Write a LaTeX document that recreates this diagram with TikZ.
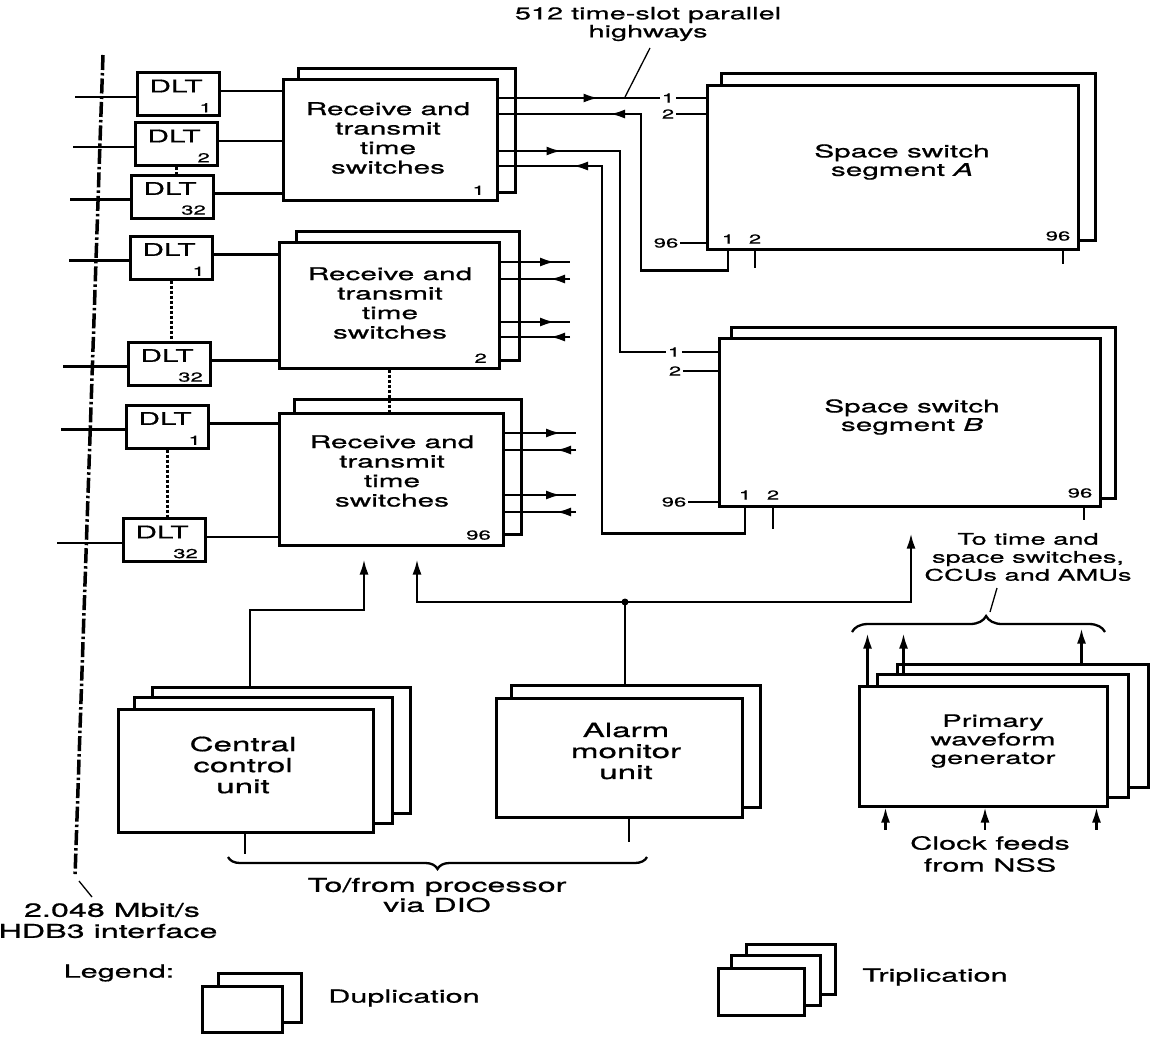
\documentclass[tikz,border=0pt]{standalone}
\usepackage{fontspec}
\setmainfont{TeX Gyre Heros}[FakeStretch=1.7,FakeBold=0.8]
\usetikzlibrary{arrows.meta,calc,decorations.pathreplacing}
\pgfdeclarelayer{back}
\pgfsetlayers{back,main}
\newcommand\backcopy[3]{\begin{pgfonlayer}{back}\draw[backbox] ($(#1.south west)+(#2,#3)$) rectangle ($(#1.north east)+(#2,#3)$);\end{pgfonlayer}}
\newcommand\dltbox[5]{%
 \node[box, minimum width=82pt, minimum height=43pt] (#1) at (#2,#3) {};
 \node[dlttext] (#1t) at ($(#1.north)+(-2,15)$) {DLT};
 \node[num, anchor=south east] (#1n) at ($(#1.south east)+(-7,-3)$) {#4};
 \coordinate (#1i) at (#5,#3+3);
 \draw[wire] (#1i) -- (#1i -| #1.west);
 \coordinate (#1o) at ($(#1.east)+(0,-3)$);
}
\begin{document}
\begin{tikzpicture}[x=1pt,y=-1pt,
 box/.style={draw, fill=white, line width=3pt, inner sep=0pt},
 backbox/.style={draw, fill=white, line width=2.4pt},
 wire/.style={line width=2.3pt},
 arr/.style={line width=2.3pt, -{Latex[length=15pt,width=9pt]}},
 thinlead/.style={line width=1.3pt},
 dotline/.style={line width=3pt, dash pattern=on 3pt off 2pt},
 dashdotline/.style={line width=3.5pt, dash pattern=on 15pt off 3pt on 2.5pt off 3pt},
 boxtext/.style={align=center, inner sep=0pt, font=\fontsize{17.5}{19.5}\selectfont},
 bigtext/.style={align=center, inner sep=0pt, font=\fontsize{19.5}{21}\selectfont},
 dlttext/.style={inner sep=0pt, font=\fontsize{17.5}{17.5}\selectfont},
 num/.style={inner sep=1.5pt, font=\fontsize{13}{13}\selectfont},
 note/.style={align=center, inner sep=0pt, font=\fontsize{16}{18}\selectfont},
 legtext/.style={inner sep=0pt, font=\fontsize{18}{18}\selectfont},
]
\useasboundingbox (0,0) rectangle (1164,1042);

% ---------- time switches ----------
\node[box, minimum width=214pt, minimum height=121pt] (ts1) at (390,139.5) {};
\backcopy{ts1}{17}{-9}
\node[boxtext] (ts1t) at (388,138) {Receive and\\transmit\\time\\switches};
\node[num, anchor=south east] (ts1n) at ($(ts1.south east)+(-12,-5)$) {1};

\node[box, minimum width=220pt, minimum height=126pt] (ts2) at (389,305) {};
\backcopy{ts2}{19}{-9}
\node[boxtext] (ts2t) at (390,303) {Receive and\\transmit\\time\\switches};
\node[num, anchor=south east] (ts2n) at ($(ts2.south east)+(-12,-5)$) {2};

\node[box, minimum width=224pt, minimum height=132pt] (ts3) at (391,479) {};
\backcopy{ts3}{17}{-12}
\node[boxtext] (ts3t) at (392,471) {Receive and\\transmit\\time\\switches};
\node[num, anchor=south east] (ts3n) at ($(ts3.south east)+(-12,-5)$) {96};

% ---------- DLTs ----------
\dltbox{d11}{178}{94}{1}{75}
\dltbox{d12}{176}{144}{2}{73}
\dltbox{d132}{172}{196.5}{32}{70}
\dltbox{d21}{171}{257.5}{1}{69}
\dltbox{d232}{169}{363.5}{32}{63}
\dltbox{d31}{167}{426.5}{1}{61}
\dltbox{d332}{164}{540}{32}{57}
\draw[wire] (d11o) -- (d11o -| ts1.west);
\draw[wire] (d12o) -- (d12o -| ts1.west);
\draw[wire] (d132o) -- (d132o -| ts1.west);
\draw[wire] (d21o) -- (d21o -| ts2.west);
\draw[wire] (d232o) -- (d232o -| ts2.west);
\draw[wire] (d31o) -- (d31o -| ts3.west);
\draw[wire] (d332o) -- (d332o -| ts3.west);
\draw[dotline] (d12.south) -- (d12.south |- d132.north);
\draw[dotline] (d21.south) -- (d21.south |- d232.north);
\draw[dotline] (d31.south) -- (d31.south |- d332.north);
\draw[dotline] (ts2.south) -- (ts2.south |- ts3.north);

% ---------- interface line ----------
\coordinate (dtop) at (103,55);
\coordinate (dbot) at (75,877);
\draw[dashdotline] (dtop) -- (dbot);
\coordinate (dlead) at (92,897);
\draw[thinlead] ($(dbot)+(4,4)$) -- (dlead);
\node[inner sep=0pt, font=\fontsize{19}{19}\selectfont] (rate) at (112,910) {2.048 Mbit/s};
\node[inner sep=0pt, font=\fontsize{19}{19}\selectfont] (hdb) at (108,931) {HDB3 interface};

% ---------- TS2 / TS3 outgoing highways ----------
\foreach \n/\yy in {a/262,b/279,c/322,d/337} \coordinate (e2\n) at (570,\yy);
\foreach \n/\yy in {a/433,b/450,c/495,d/512} \coordinate (e3\n) at (576,\yy);
\foreach \n in {a,c} {
 \draw[wire] (e2\n -| ts2.east) -- (e2\n);
 \draw[arr] (e2\n -| ts2.east) -- ($(e2\n)+(-15,0)$);
 \draw[wire] (e3\n -| ts3.east) -- (e3\n);
 \draw[arr] (e3\n -| ts3.east) -- ($(e3\n)+(-15,0)$);
}
\foreach \n in {b,d} {
 \draw[wire] (e2\n -| ts2.east) -- (e2\n);
 \draw[arr] (e2\n) -- ($(e2\n)+(-20,0)$);
 \draw[wire] (e3\n -| ts3.east) -- (e3\n);
 \draw[arr] (e3\n) -- ($(e3\n)+(-20,0)$);
}

% ---------- space switch A ----------
\node[box, minimum width=371pt, minimum height=164pt] (ssa) at (892.5,167) {};
\backcopy{ssa}{16}{-10}
\node[boxtext, font=\fontsize{17.5}{18.5}\selectfont] (ssat) at (902,162) {Space switch\\segment \textit{A}};
\node[num] (sa1) at (668,98) {1};
\node[num] (sa2) at (668,114) {2};
\node[num] (sa96) at (666,243) {96};
\node[num] (sab1) at (728,239) {1};
\node[num] (sab2) at (755,239) {2};
\node[num] (sab96) at (1058,236) {96};
\draw[wire] (sa1.east) -- (sa1 -| ssa.west);
\draw[wire] (sa2.east) -- (sa2 -| ssa.west);
\draw[wire] (sa96.east) -- (sa96 -| ssa.west);
\draw[wire] (sab2 |- ssa.south) -- ++(0,17);
\draw[wire] ($(sab96 |- ssa.south)+(5,0)$) -- ++(0,13);

% ---------- space switch B ----------
\node[box, minimum width=381pt, minimum height=168pt] (ssb) at (909.5,422) {};
\backcopy{ssb}{14}{-9}
\node[boxtext, font=\fontsize{17.5}{18.5}\selectfont] (ssbt) at (912,417) {Space switch\\segment \textit{B}};
\node[num] (sb1) at (674,352) {1};
\node[num] (sb2) at (675,371) {2};
\node[num] (sb96) at (674,502) {96};
\node[num] (sbb1) at (745,495) {1};
\node[num] (sbb2) at (773,495) {2};
\node[num] (sbb96) at (1080,493) {96};
\draw[wire] (sb1.east) -- (sb1 -| ssb.west);
\draw[wire] (sb2.east) -- (sb2 -| ssb.west);
\draw[wire] (sb96.east) -- (sb96 -| ssb.west);
\draw[wire] (sbb2 |- ssb.south) -- ++(0,21);
\draw[wire] ($(sbb96 |- ssb.south)+(4,0)$) -- ++(0,12);

% ---------- TS1 highways to space switches ----------
\draw[wire] (sa1 -| ts1.east) -- (sa1.west);
\draw[arr] (sa1 -| ts1.east) -- ++(100,0);
\coordinate (h2) at (641,114);
\draw[wire] (sab1 |- ssa.south) -- ++(0,20) -| (h2) -- (h2 -| ts1.east);
\draw[arr] (h2) -- ++(-31,0);
\coordinate (h3) at (620,151);
\draw[wire] (h3 -| ts1.east) -- (h3) |- (sb1.west);
\draw[arr] (h3 -| ts1.east) -- ++(63,0);
\coordinate (h4) at (602,166);
\draw[wire] (sbb1 |- ssb.south) -- ++(0,26) -| (h4) -- (h4 -| ts1.east);
\draw[arr] (h4) -- ++(-29,0);

% ---------- title ----------
\node[note, font=\fontsize{17}{18}\selectfont] (title) at (648,24) {512 time-slot parallel\\highways};
\coordinate (tl1) at (650,48);
\coordinate (tl2) at (625,97);
\draw[thinlead] (tl1) -- (tl2);

% ---------- central control unit ----------
\node[box, minimum width=255pt, minimum height=123pt] (ccu) at (245.5,770.5) {};
\backcopy{ccu}{36}{-20}
\backcopy{ccu}{18}{-10}
\node[bigtext] (ccut) at (243,765) {Central\\control\\unit};

% ---------- alarm monitor unit ----------
\node[box, minimum width=246pt, minimum height=119pt] (am) at (619,757.5) {};
\backcopy{am}{17}{-11}
\node[bigtext] (amt) at (626,751) {Alarm\\monitor\\unit};

% ---------- control connections ----------
\coordinate (cb) at (364,610);
\draw[arr] ($(ccu.north)+(4.5,-20)$) |- (cb) -- ($(cb |- ts3.south)+(0,13)$);
\coordinate (j) at (625,602);
\draw[wire] ($(am.north)+(6,-11)$) -- (j);
\draw[arr] (j) -| ($(ts3.south)+(26,13)$);
\draw[arr] (j) -| ($(ssb.south)+(1.5,26)$);
\fill (j) circle (3.5pt);

\draw[wire] ($(ccu.south)+(-0.5,0)$) -- ++(0,20);
\draw[wire] ($(am.south)+(10,0)$) -- ++(0,23);
\coordinate (brR) at (647,857);
\coordinate (brL) at (228,857);
\draw[wire, decorate, decoration={brace, amplitude=12pt}] (brR) -- (brL);
\node[align=center, inner sep=0pt, font=\fontsize{19}{20}\selectfont] (dio) at (437,895) {To/from processor\\via DIO};

% ---------- primary waveform generator ----------
\node[box, minimum width=248pt, minimum height=120pt] (pwg) at (983,746) {};
\backcopy{pwg}{40}{-20}
\backcopy{pwg}{20}{-10}
\node[boxtext, font=\fontsize{17.2}{18.5}\selectfont] (pwgt) at (993,741) {Primary\\waveform\\generator};
\draw[arr] ($(pwg.north west)+(10,0)$) -- ++(0,-51);
\draw[arr] ($(pwg.north west)+(46,-10)$) -- ++(0,-41);
\draw[arr] ($(pwg.north west)+(224,-20)$) -- ++(0,-36);
\coordinate (bt1) at (852,632);
\coordinate (bt2) at (1105,632);
\draw[wire, decorate, decoration={brace, amplitude=16pt, aspect=0.53}] (bt1) -- (bt2);
\coordinate (bl1) at (990,612);
\coordinate (bl2) at (997,588);
\draw[thinlead] (bl1) -- (bl2);
\node[note] (dest) at (1028,557) {To time and\\space switches,\\CCUs and AMUs};
\draw[arr] ($(pwg.south west)+(28,22)$) -- ++(0,-22);
\draw[arr] ($(pwg.south)+(2,22)$) -- ++(0,-22);
\draw[arr] ($(pwg.south east)+(-12,22)$) -- ++(0,-22);
\node[align=center, inner sep=0pt, font=\fontsize{18}{22}\selectfont] (clk) at (990,854) {Clock feeds\\from NSS};

% ---------- legend ----------
\node[inner sep=0pt, font=\fontsize{18}{18}\selectfont] (leg) at (119,973) {Legend:};
\node[box, minimum width=80pt, minimum height=46pt] (dup) at (242,1009) {};
\backcopy{dup}{18}{-11}
\node[legtext] (dupt) at (404,998) {Duplication};
\node[box, minimum width=86pt, minimum height=47pt] (trip) at (761,991.5) {};
\backcopy{trip}{30}{-22}
\backcopy{trip}{15}{-11}
\node[legtext] (tript) at (935,977) {Triplication};
\end{tikzpicture}
\end{document}
